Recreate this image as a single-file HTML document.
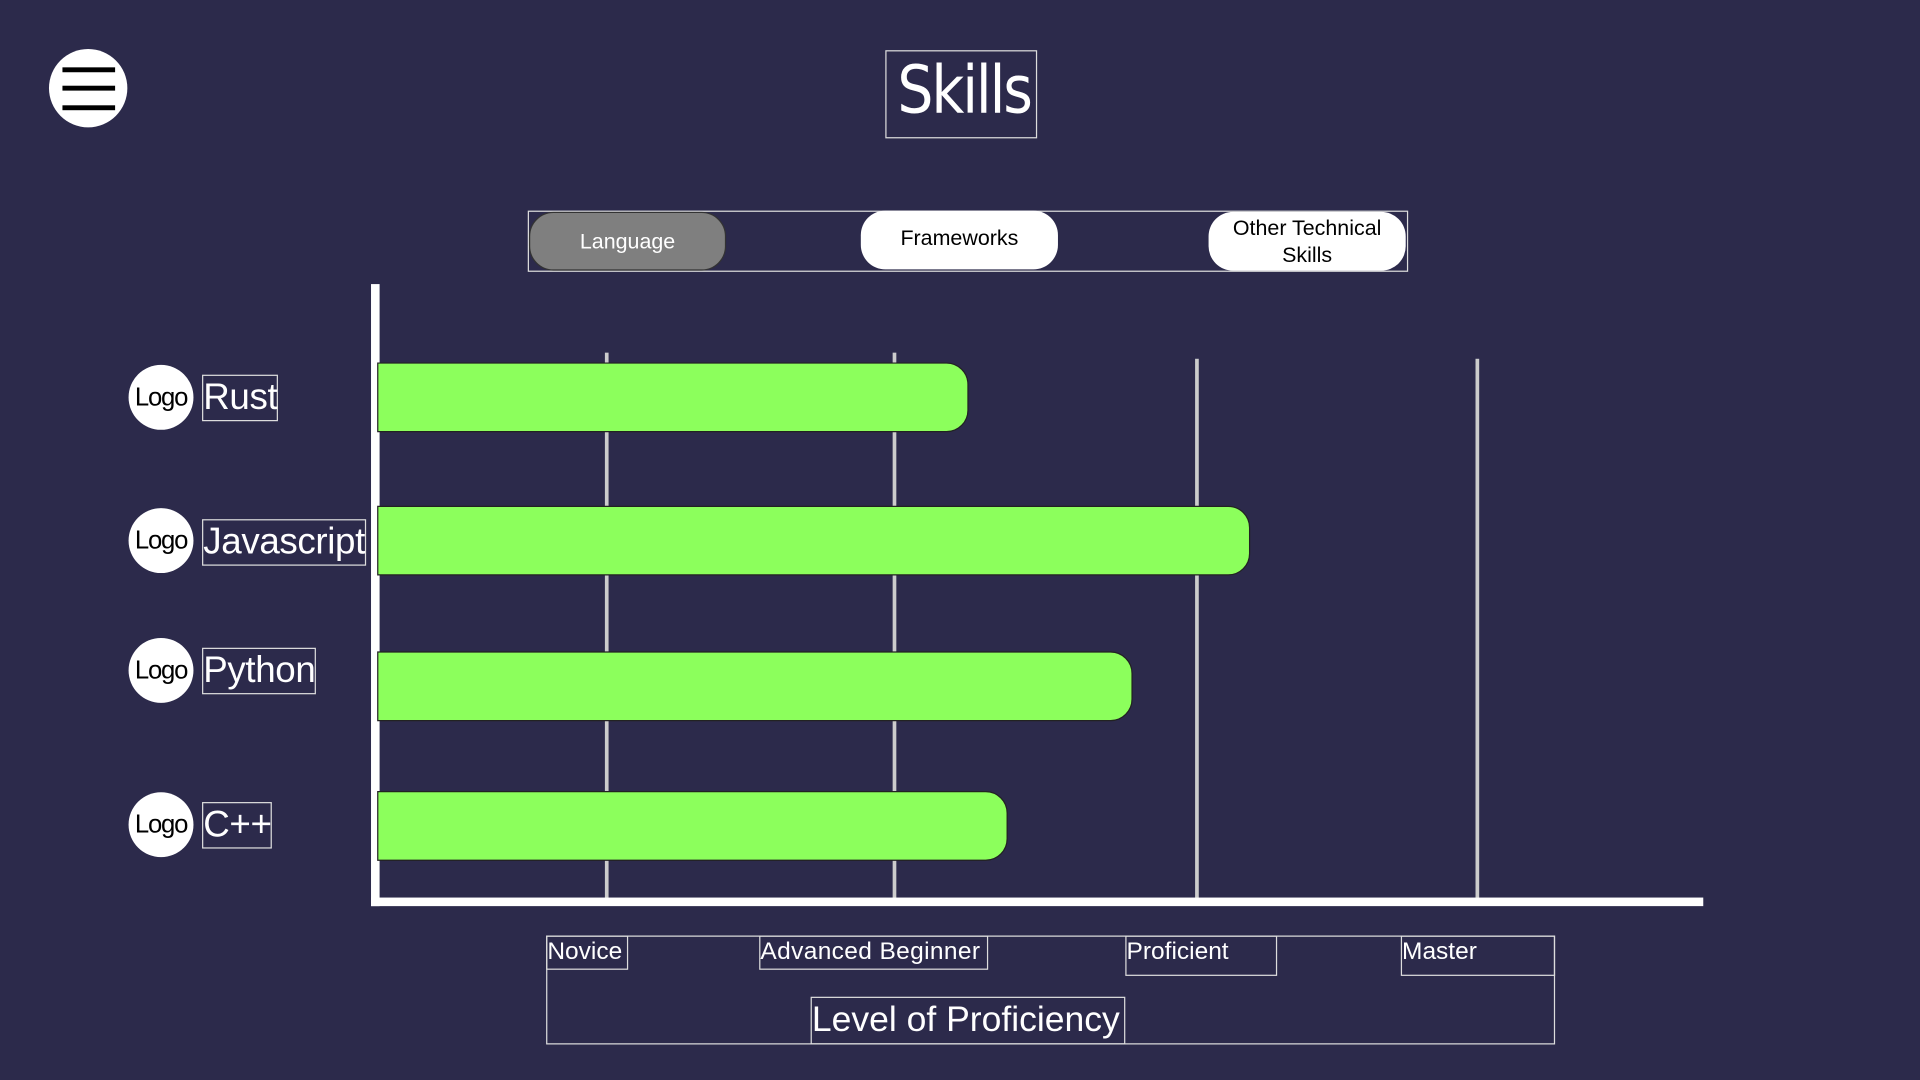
<!DOCTYPE html>
<html><head><meta charset="utf-8"><style>
html,body{margin:0;padding:0;width:1920px;height:1080px;overflow:hidden;background:#2c2a4b}
#c{position:absolute;left:0;top:0;width:1568px;height:882px;transform:scale(1.22449);transform-origin:0 0;font-family:"Liberation Sans",sans-serif}
.a{position:absolute;box-sizing:border-box}
.bx{border:1px solid #ddd;color:#fff;line-height:1;white-space:nowrap}
.g{background:#ccc;width:3px}
.bar{background:#8cff5c;border:1px solid #222;border-radius:0 18px 18px 0;left:308px;height:57px}
.logo{width:53px;height:53px;border-radius:50%;background:#fff;left:105px;font-size:21px;text-align:center;line-height:53px;color:#000;letter-spacing:-1px}
.lb{left:165px;font-size:30px;padding:0;height:38px;line-height:36px;letter-spacing:-0.3px}
.ax{font-size:20px;padding-left:0;line-height:24px}
.tab{top:173px;height:48px;border-radius:20px;width:161px;text-align:center;font-size:17.5px;display:flex;align-items:center;justify-content:center;line-height:22px}
</style></head><body><div id="c">
<div class="a" style="left:40px;top:40px;width:64px;height:64px;border-radius:50%;background:#fff"></div>
<div class="a" style="left:51px;top:55px;width:43px;height:4px;background:#000"></div>
<div class="a" style="left:51px;top:70px;width:43px;height:4px;background:#000"></div>
<div class="a" style="left:51px;top:86px;width:43px;height:4px;background:#000"></div>
<div class="a bx" style="left:723px;top:41px;width:124px;height:72px;font-family:'DejaVu Sans',sans-serif;font-size:54px;text-align:center;line-height:64px;letter-spacing:-2px"><span style="display:inline-block;transform:scaleX(0.86)">Skills</span></div>
<div class="a" style="left:431px;top:172px;width:719px;height:50px;border:1px solid #ddd"></div>
<div class="a tab" style="left:432px;background:#7f7f7f;color:#fff;border:1px solid #333">Language</div>
<div class="a tab" style="left:703px;background:#fff;color:#000;top:172px;align-items:flex-start;padding-top:11px">Frameworks</div>
<div class="a tab" style="left:987px;background:#fff;color:#000">Other Technical<br>Skills</div>
<div class="a g" style="left:494px;top:288px;height:446px"></div>
<div class="a g" style="left:729px;top:288px;height:446px"></div>
<div class="a g" style="left:976px;top:293px;height:441px"></div>
<div class="a g" style="left:1205px;top:293px;height:441px"></div>
<div class="a" style="left:303px;top:232px;width:7px;height:508px;background:#fff"></div>
<div class="a" style="left:303px;top:733px;width:1088px;height:7px;background:#fff"></div>
<div class="a bar" style="top:296px;width:483px"></div>
<div class="a bar" style="top:413px;width:713px"></div>
<div class="a bar" style="top:532px;width:617px"></div>
<div class="a bar" style="top:646px;width:515px"></div>
<div class="a logo" style="top:298px">Logo</div>
<div class="a logo" style="top:415px">Logo</div>
<div class="a logo" style="top:521px">Logo</div>
<div class="a logo" style="top:647px">Logo</div>
<div class="a bx lb" style="top:306px;width:62px">Rust</div>
<div class="a bx lb" style="top:424px;width:134px">Javascript</div>
<div class="a bx lb" style="top:529px;width:93px">Python</div>
<div class="a bx lb" style="top:655px;width:57px">C++</div>
<div class="a" style="left:446px;top:764px;width:824px;height:89px;border:1px solid #ddd"></div>
<div class="a bx ax" style="left:446px;top:764px;width:67px;height:28px">Novice</div>
<div class="a bx ax" style="left:620px;top:764px;width:187px;height:28px;letter-spacing:0.3px">Advanced Beginner</div>
<div class="a bx ax" style="left:919px;top:764px;width:124px;height:33px">Proficient</div>
<div class="a bx ax" style="left:1144px;top:764px;width:126px;height:33px">Master</div>
<div class="a bx" style="left:662px;top:814px;width:257px;height:39px;font-size:29px;line-height:36px;padding-left:0">Level of Proficiency</div>
</div></body></html>
